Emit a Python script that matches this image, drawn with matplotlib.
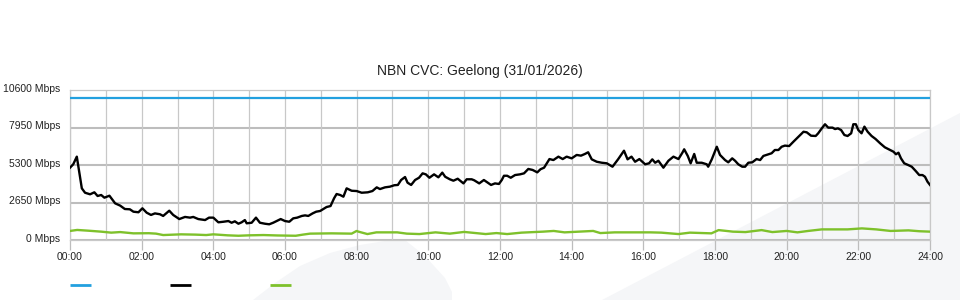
import matplotlib
matplotlib.use("Agg")
import matplotlib.pyplot as plt
from matplotlib.patches import Polygon
from matplotlib.lines import Line2D
from matplotlib.ticker import MultipleLocator
import matplotlib.transforms as mtransforms

plt.rcParams['font.family'] = ['Liberation Sans', 'DejaVu Sans']

title = "NBN CVC: Geelong (31/01/2026)"
ytick_values = [0, 2650, 5300, 7950, 10600]
xtick_labels = ["00:00", "02:00", "04:00", "06:00", "08:00", "10:00", "12:00",
                "14:00", "16:00", "18:00", "20:00", "22:00", "24:00"]

capacity_hours = [0, 24]
capacity_mbps = [10000, 10000]

black_hours = [0.00, 0.09, 0.19, 0.33, 0.42, 0.56, 0.68, 0.77, 0.87, 0.96, 1.10, 1.26, 1.40, 1.53,
               1.67, 1.77, 1.91, 2.02, 2.14, 2.26, 2.37, 2.51, 2.60, 2.77, 2.88, 3.05, 3.21, 3.35,
               3.44, 3.58, 3.77, 3.88, 4.00, 4.14, 4.28, 4.42, 4.51, 4.60, 4.70, 4.79, 4.88, 4.93,
               5.07, 5.19, 5.30, 5.44, 5.56, 5.67, 5.77, 5.88, 6.00, 6.12, 6.23, 6.34, 6.47, 6.56,
               6.65, 6.77, 6.87, 6.98, 7.07, 7.16, 7.27, 7.37, 7.44, 7.54, 7.63, 7.72, 7.86, 8.00,
               8.14, 8.31, 8.44, 8.56, 8.65, 8.79, 8.93, 9.05, 9.15, 9.24, 9.35, 9.42, 9.52, 9.63,
               9.74, 9.84, 9.93, 10.03, 10.16, 10.28, 10.39, 10.47, 10.60, 10.70, 10.82, 10.98,
               11.07, 11.21, 11.28, 11.42, 11.55, 11.66, 11.75, 11.86, 11.97, 12.05, 12.11, 12.20,
               12.30, 12.42, 12.56, 12.67, 12.79, 12.91, 13.04, 13.13, 13.23, 13.38, 13.49, 13.63,
               13.75, 13.86, 14.00, 14.14, 14.26, 14.37, 14.46, 14.56, 14.70, 14.84, 14.98, 15.14,
               15.30, 15.46, 15.56, 15.67, 15.77, 15.89, 16.05, 16.16, 16.25, 16.33, 16.42, 16.56,
               16.70, 16.84, 16.98, 17.09, 17.14, 17.24, 17.32, 17.42, 17.49, 17.63, 17.77, 17.81,
               17.91, 18.05, 18.14, 18.28, 18.37, 18.48, 18.56, 18.65, 18.76, 18.84, 18.93, 19.04,
               19.16, 19.26, 19.35, 19.49, 19.58, 19.67, 19.77, 19.86, 19.95, 20.07, 20.19, 20.33,
               20.47, 20.56, 20.68, 20.81, 20.88, 20.98, 21.07, 21.16, 21.28, 21.35, 21.43, 21.52,
               21.61, 21.70, 21.80, 21.86, 21.93, 22.00, 22.09, 22.17, 22.26, 22.37, 22.48, 22.61,
               22.74, 22.89, 22.98, 23.05, 23.12, 23.19, 23.28, 23.39, 23.49, 23.60, 23.70, 23.79,
               23.86, 23.93, 24.00]
black_mbps = [5110, 5350, 5890, 3650, 3340, 3230, 3370, 3110, 3180, 2990, 3130, 2590, 2430, 2190,
              2170, 2000, 1960, 2240, 1930, 1770, 1880, 1820, 1700, 2070, 1770, 1480, 1630, 1580,
              1630, 1480, 1410, 1580, 1580, 1250, 1290, 1340, 1220, 1320, 1150, 1250, 1410, 1180,
              1220, 1580, 1220, 1150, 1110, 1220, 1340, 1480, 1340, 1290, 1530, 1580, 1700, 1740,
              1700, 1880, 2000, 2050, 2190, 2330, 2400, 2950, 3250, 3180, 3060, 3650, 3480, 3460,
              3340, 3370, 3460, 3720, 3600, 3720, 3770, 3870, 3890, 4240, 4450, 4050, 3890, 4240,
              4400, 4710, 4640, 4400, 4640, 4430, 4760, 4470, 4290, 4190, 4330, 4000,
              4290, 4290, 4220, 4000, 4240, 4050, 3890, 4000, 3960, 4240, 4540, 4540,
              4400, 4590, 4640, 4710, 5020, 4950, 4780, 5000, 5110, 5720, 5650, 5890,
              5720, 5890, 5770, 6010, 5960, 6080, 6200, 5700, 5530, 5460, 5420, 5180,
              5720, 6310, 5700, 5890, 5530, 5720, 5350, 5420, 5700, 5460, 5600, 5110,
              5600, 5890, 5720, 6170, 6410, 5940, 5420, 6080, 5460, 5460, 5350, 5180,
              5700, 6590, 6010, 5650, 5490, 5770, 5600, 5350, 5180, 5180, 5460, 5490,
              5720, 5650, 5940, 6060, 6130, 6360, 6360, 6590, 6670, 6640, 6950, 7300,
              7650, 7610, 7370, 7350, 7540, 7890, 8180, 7940, 7940, 7840, 7890, 7770,
              7420, 7350, 7540, 8180, 8180, 7770, 7540, 8010, 7650, 7350, 7140, 6830,
              6550, 6360, 6240, 6060, 6170, 5770, 5420, 5300, 5180, 4880, 4590, 4590,
              4470, 4120, 3890]

green_hours = [0.00, 0.20, 0.50, 0.87, 1.15, 1.40, 1.77, 2.20, 2.40, 2.60, 3.10, 3.50, 3.80, 4.00,
               4.40, 4.70, 5.00, 5.40, 5.80, 6.30, 6.50, 6.70, 7.30, 7.86, 8.00, 8.05, 8.30, 8.55,
               9.13, 9.40, 9.75, 10.20, 10.60, 11.00, 11.60, 11.90, 12.20, 12.60, 13.20, 13.50,
               13.80, 14.60, 14.80, 15.20, 16.20, 16.50, 16.98, 17.30, 17.90, 18.10, 18.50, 18.85,
               19.30, 19.60, 20.00, 20.30, 20.60, 20.98, 21.70, 22.10, 22.50, 22.90, 23.40, 23.70,
               24.00]
green_mbps = [640, 710, 660, 590, 520, 560, 470, 480, 450, 350, 400, 380, 350, 400,
              330, 300, 330, 350, 320, 300, 380, 450, 470, 450, 640, 590, 420, 540,
              540, 450, 420, 540, 450, 570, 420, 490, 420, 520, 590, 640,
              540, 640, 490, 540, 540, 520, 420, 520, 470, 700, 590, 560,
              700, 560, 640, 540, 640, 750, 750, 820, 750, 640, 680, 620,
              590]

BLUE = "#22a0df"
BLACK = "#000000"
GREEN = "#7ec12b"

W, H = 960, 300
fig = plt.figure(figsize=(9.6, 3.0), dpi=100)
fig.patch.set_facecolor("white")


def fx(px):
    return px / W


def fy(py):
    return 1 - py / H


# background watermark shapes
shade = "#f5f6f8"
shape1 = [(253, 300), (275, 283), (300, 266), (330, 253), (360, 245), (385, 241), (405, 240),
          (425, 256), (445, 278), (452, 292), (452, 300)]
shape2 = [(602, 300), (960, 113), (960, 300)]
for shp in (shape1, shape2):
    fig.add_artist(Polygon([(fx(a), fy(b)) for a, b in shp], closed=True,
                           transform=fig.transFigure, facecolor=shade, edgecolor="none",
                           zorder=-5))

ax = fig.add_axes([fx(70), fy(240), fx(930) - fx(70), fy(90) - fy(240)])
ax.set_zorder(2)
ax.set_facecolor("none")
ax.set_xlim(0, 24)
ax.set_ylim(0, 10600)

ax.xaxis.set_minor_locator(MultipleLocator(1))
ax.set_xticks(range(0, 25, 2))
ax.set_xticklabels(xtick_labels)
ax.set_yticks(ytick_values)
ax.set_yticklabels([f"{v} Mbps" for v in ytick_values])

ax.grid(True, axis="x", which="both", color="#c8c8c8", lw=0.9, zorder=1)
for v in ytick_values[:-1]:
    ax.axhline(v, color="#bdbdbd", lw=1.5, zorder=1)

for s in ax.spines.values():
    s.set_color("#c8c8c8")
    s.set_linewidth(0.9)

ax.tick_params(axis="x", which="major", length=7, width=0.9, color="#bdbdbd",
               labelsize=7.5, labelcolor="#222222", pad=1.5)
ax.tick_params(axis="x", which="minor", length=0)
ax.tick_params(axis="y", length=0, labelsize=7.5, labelcolor="#222222", pad=7)
offset = mtransforms.ScaledTranslation(0, 1.5 / 72, fig.dpi_scale_trans)
for lbl in ax.get_yticklabels():
    lbl.set_transform(lbl.get_transform() + offset)

ax.plot(capacity_hours, capacity_mbps, color=BLUE, lw=1.6, zorder=3, solid_capstyle="butt")
ax.plot(green_hours, green_mbps, color=GREEN, lw=1.7, zorder=3)
ax.plot(black_hours, black_mbps, color=BLACK, lw=1.7, zorder=4)

fig.text(0.5, fy(71), title, ha="center", va="center", fontsize=10, color="#222222")

# legend swatches (no text)
for x0, c in [(70, BLUE), (170, BLACK), (270, GREEN)]:
    fig.add_artist(Line2D([fx(x0), fx(x0 + 21)], [fy(285), fy(285)], color=c, lw=2,
                          transform=fig.transFigure, solid_capstyle="butt", zorder=3))

fig.savefig("out.png", dpi=100)
